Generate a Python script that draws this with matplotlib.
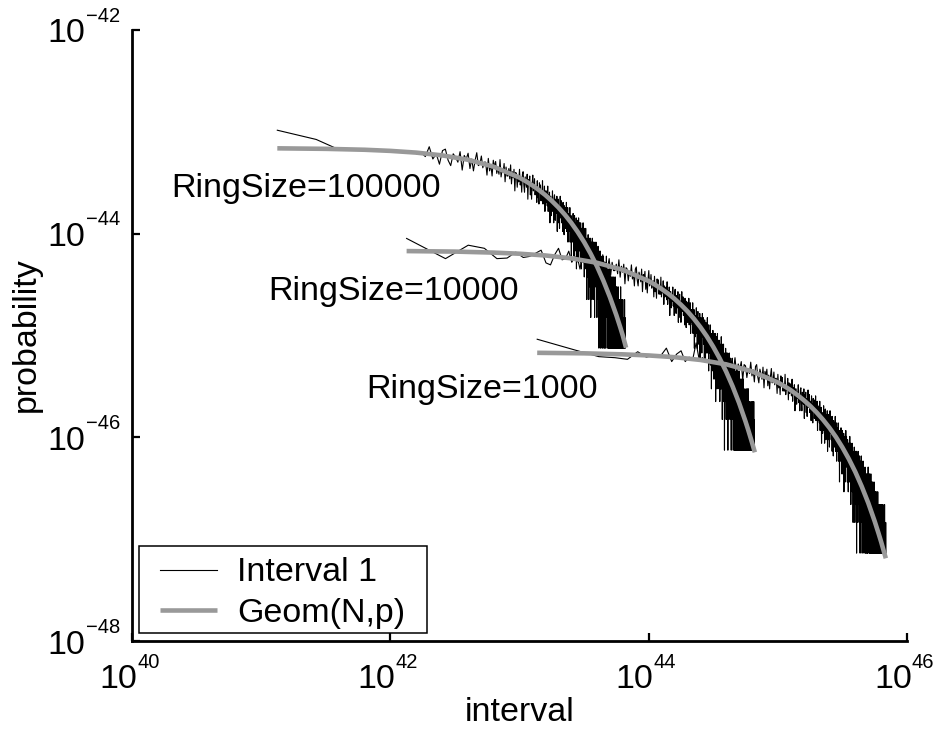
import numpy as np
import matplotlib
matplotlib.use('Agg')
import matplotlib.pyplot as plt
from matplotlib.patches import Rectangle

# ---------------- data ----------------
labels = ['RingSize=100000', 'RingSize=10000', 'RingSize=1000']
legend_labels = ['Interval 1', 'Geom(N,p)']

# interval unit (x of interval 1) and probability of a single count, per ring size
x_units = [10**41.125, 10**42.126, 10**43.137]
y_units = [10**-45.124, 10**-46.126, 10**-47.137]

counts_100000 = [
    138, 112, 89, 90, 87, 89, 86, 85, 86, 83,
    84, 81, 83, 76, 95, 72, 81, 64, 87, 90,
    70, 62, 81, 75, 67, 85, 56, 78, 72, 82,
    58, 72, 55, 70, 83, 62, 64, 77, 59, 67,
    67, 50, 73, 55, 63, 49, 70, 60, 68, 52,
    59, 51, 71, 48, 57, 53, 65, 43, 60, 49,
    49, 58, 46, 63, 41, 54, 47, 57, 35, 53,
    52, 38, 48, 43, 57, 40, 47, 34, 51, 54,
    40, 34, 48, 43, 38, 51, 29, 45, 41, 49,
    32, 42, 29, 41, 50, 35, 37, 46, 32, 38,
    39, 27, 44, 30, 37, 26, 42, 34, 40, 28,
    34, 28, 44, 26, 33, 30, 39, 22, 35, 27,
    28, 35, 25, 39, 22, 32, 26, 34, 17, 31,
    31, 20, 28, 24, 35, 22, 27, 17, 30, 32,
    22, 18, 29, 25, 21, 31, 14, 27, 23, 29,
    17, 25, 15, 24, 31, 19, 21, 28, 17, 22,
    23, 14, 27, 17, 22, 13, 25, 20, 24, 15,
    20, 16, 27, 14, 19, 17, 24, 11, 21, 14,
    16, 21, 14, 24, 11, 19, 15, 20, 8, 18,
    18, 11, 16, 13, 21, 12, 16, 8, 18, 20,
    12, 9, 17, 15, 11, 19, 6, 16, 13, 18,
    9, 15, 7, 14, 19, 10, 12, 17, 9, 13,
    14, 7, 17, 9, 12, 6, 15, 11, 15, 7,
    12, 9, 17, 7, 11, 9, 15, 5, 12, 8,
    9, 13, 7, 15, 6, 11, 8, 12, 3, 10,
    11, 5, 10, 7, 13, 6, 9, 3, 11, 12,
    7, 4, 10, 9, 6, 12, 2, 9, 7, 11,
    4, 9, 3, 8, 12, 6, 7, 11, 5, 7,
    8, 3, 11, 5, 7, 2, 10, 6, 9, 4,
    7, 5, 11, 4, 7, 5, 9, 2, 8, 4,
    5, 8, 4, 10, 3, 7, 4, 8, 1, 6,
    7, 2, 6, 4, 9, 3, 5, 1, 7, 7,
    4, 2, 7, 5, 3, 8, 1, 6, 4, 7,
    2, 5, 1, 5, 8, 3, 4, 7, 2, 4,
    5, 1, 7, 2, 4, 1, 6, 4, 6, 2,
    4, 2, 8, 2, 4, 3, 6, 1, 5, 2,
    3, 5, 2, 6, 1, 4, 2, 5, 1, 4,
    4, 1, 3, 2, 6, 1, 3, 1, 4, 5,
    2, 1, 4, 3, 2, 5, 1, 3, 2, 4,
    1, 3, 1, 3, 5, 2, 2, 4, 1, 2,
    3, 1, 5, 1, 3, 1, 4, 2, 4, 1,
    3, 1, 5, 1, 2, 1, 4, 1, 3, 1,
    2, 3, 1, 4, 1, 3, 1, 3, 1, 2,
    3, 1, 2, 1, 4, 1, 2, 1, 3, 3,
    1, 1, 3, 2, 1, 3, 1, 2, 1, 3,
    1, 2, 1, 2, 4, 1, 1, 3, 1, 1,
    2, 1, 3, 1, 1, 1, 2, 1, 2, 1,
    2, 1, 3, 1, 1, 1, 2, 1, 1, 1,
    1, 2, 1, 1, 1, 2, 1, 3, 1, 1,
    2, 1, 1,
]

counts_10000 = [
    120, 76, 103, 96, 76, 77, 88, 78, 80, 86,
    92, 69, 66, 83, 96, 74, 76, 90, 70, 79,
    78, 60, 85, 65, 75, 58, 81, 71, 80, 62,
    69, 61, 83, 57, 67, 62, 76, 52, 70, 58,
    58, 67, 54, 74, 50, 64, 56, 67, 43, 62,
    60, 46, 57, 51, 66, 48, 55, 41, 60, 63,
    47, 41, 56, 51, 45, 60, 36, 53, 48, 57,
    38, 49, 35, 48, 58, 41, 43, 53, 39, 45,
    46, 32, 51, 36, 43, 31, 48, 41, 47, 34,
    40, 34, 50, 32, 39, 35, 46, 27, 41, 32,
    33, 40, 30, 45, 27, 37, 31, 40, 21, 36,
    36, 25, 33, 29, 40, 26, 32, 21, 35, 38,
    26, 22, 33, 30, 25, 36, 18, 31, 27, 34,
    20, 29, 18, 28, 36, 23, 25, 32, 21, 26,
    27, 17, 31, 20, 25, 16, 29, 23, 28, 18,
    23, 19, 31, 17, 23, 20, 28, 14, 24, 18,
    19, 24, 17, 28, 14, 22, 18, 24, 10, 21,
    21, 13, 19, 16, 25, 14, 18, 10, 21, 23,
    15, 11, 20, 17, 14, 22, 8, 18, 16, 20,
    11, 17, 9, 17, 22, 13, 14, 20, 11, 15,
    16, 8, 19, 11, 15, 8, 18, 13, 17, 9,
    14, 10, 20, 9, 13, 11, 17, 6, 15, 9,
    11, 15, 9, 17, 7, 13, 10, 14, 4, 12,
    13, 6, 11, 9, 15, 7, 11, 5, 13, 14,
    8, 5, 12, 10, 7, 14, 3, 11, 9, 13,
    5, 10, 4, 10, 14, 7, 8, 12, 6, 9,
    10, 4, 12, 6, 9, 3, 11, 8, 10, 4,
    8, 6, 13, 4, 8, 6, 11, 2, 9, 5,
    6, 9, 5, 11, 3, 8, 5, 9, 1, 7,
    8, 3, 7, 5, 10, 4, 6, 2, 8, 9,
    5, 2, 8, 6, 4, 9, 1, 7, 5, 8,
    3, 6, 2, 6, 9, 4, 4, 8, 3, 5,
    6, 2, 8, 3, 5, 1, 7, 4, 6, 2,
    5, 3, 8, 2, 5, 3, 7, 1, 5, 2,
    3, 6, 2, 7, 1, 5, 3, 5, 1, 4,
    5, 1, 4, 3, 6, 2, 4, 1, 5, 5,
    2, 1, 5, 3, 2, 6, 1, 4, 3, 5,
    1, 4, 1, 3, 6, 2, 2, 5, 1, 3,
    4, 1, 5, 1, 3, 1, 4, 2, 4, 1,
    3, 1, 5, 1, 3, 2, 4, 1, 3, 1,
    2, 4, 1, 5, 1, 3, 2, 3, 1, 3,
    3, 1, 2, 1, 4, 1, 2, 1, 3, 3,
    1, 1, 3, 2, 1, 4, 1, 2, 2, 3,
    1, 2, 1, 2, 4, 1, 1, 3, 1, 2,
    2, 1, 4, 1, 2, 1, 3, 1, 2, 1,
    1, 3, 1, 2, 1, 2, 1, 2, 1, 1,
    2, 1, 1, 3, 1, 2, 1, 1, 2, 1,
    1, 2, 1, 1, 3, 1, 1, 2, 1, 1,
    2, 1, 1, 1, 2, 1, 3, 1, 1, 1,
    1, 2, 1, 1,
]

counts_1000 = [
    126, 98, 85, 83, 80, 95, 84, 88, 86, 103,
    76, 90, 97, 76, 84, 80, 116, 78, 83, 75,
    78, 70, 93, 66, 77, 71, 86, 60, 80, 67,
    67, 77, 62, 83, 57, 72, 64, 76, 50, 71,
    69, 53, 65, 58, 75, 55, 63, 48, 68, 71,
    54, 47, 64, 58, 51, 67, 42, 61, 55, 64,
    44, 56, 41, 55, 65, 47, 50, 60, 45, 52,
    52, 37, 57, 42, 49, 36, 55, 46, 53, 39,
    46, 39, 57, 36, 44, 40, 52, 32, 47, 37,
    38, 46, 35, 51, 31, 42, 36, 45, 25, 41,
    41, 29, 38, 33, 45, 30, 36, 25, 40, 42,
    30, 25, 38, 34, 29, 41, 21, 36, 31, 38,
    24, 33, 22, 32, 40, 27, 28, 36, 24, 30,
    31, 20, 35, 23, 29, 19, 33, 27, 32, 21,
    27, 22, 35, 20, 26, 23, 31, 16, 28, 20,
    22, 27, 19, 31, 16, 25, 20, 27, 12, 24,
    24, 15, 22, 18, 28, 16, 21, 12, 24, 26,
    17, 13, 23, 20, 16, 25, 10, 21, 18, 23,
    13, 20, 11, 19, 25, 15, 16, 22, 13, 17,
    18, 10, 22, 12, 17, 9, 20, 15, 19, 11,
    16, 12, 22, 10, 15, 13, 19, 8, 17, 11,
    12, 17, 10, 19, 8, 15, 11, 16, 5, 14,
    15, 8, 13, 10, 17, 9, 12, 6, 14, 16,
    9, 6, 14, 11, 8, 15, 4, 12, 10, 14,
    6, 12, 5, 11, 16, 8, 9, 14, 7, 10,
    11, 5, 13, 7, 10, 4, 12, 9, 12, 5,
    9, 6, 14, 5, 9, 7, 12, 3, 10, 6,
    7, 10, 6, 12, 4, 9, 6, 10, 2, 8,
    9, 4, 8, 5, 11, 4, 7, 2, 9, 10,
    5, 3, 9, 7, 4, 10, 1, 8, 6, 9,
    3, 7, 2, 7, 10, 4, 5, 9, 3, 6,
    7, 2, 9, 3, 6, 1, 8, 5, 7, 2,
    6, 3, 9, 3, 5, 4, 8, 1, 6, 3,
    4, 6, 3, 8, 2, 5, 3, 6, 1, 5,
    6, 2, 5, 3, 7, 2, 4, 1, 5, 6,
    3, 1, 5, 4, 2, 6, 1, 5, 3, 5,
    1, 4, 1, 4, 7, 2, 3, 6, 2, 3,
    4, 1, 6, 2, 4, 1, 5, 3, 5, 1,
    3, 2, 6, 1, 3, 2, 5, 1, 4, 2,
    2, 4, 1, 5, 1, 3, 2, 4, 1, 3,
    4, 1, 3, 2, 5, 1, 3, 1, 3, 4,
    2, 1, 4, 2, 1, 4, 1, 3, 2, 3,
    1, 3, 1, 3, 4, 1, 2, 3, 1, 2,
    3, 1, 4, 1, 2, 1, 3, 1, 3, 1,
    2, 1, 3, 1, 2, 1, 2, 3, 1, 2,
    1, 3, 1, 2, 1, 2, 1, 3, 1, 1,
    2, 1, 1, 3, 1, 2, 1, 1, 2, 1,
    1, 2, 1, 1, 3, 1, 1, 2, 1, 2,
    1, 1, 2, 1, 1, 2, 1, 1, 3, 1,
    1, 2, 1, 1, 1, 2, 1, 1, 2, 1,
]

# fitted geometric curves: log10(interval), log10(probability)
geom1_logx = [41.125, 41.5, 41.8, 42.0, 42.2, 42.4, 42.6, 42.8, 43.0, 43.05, 43.1, 43.15,
              43.2, 43.25, 43.3, 43.35, 43.4, 43.45, 43.5, 43.55, 43.6, 43.65, 43.7,
              43.75, 43.78, 43.8, 43.825]
geom1_logy = [-43.162, -43.167, -43.176, -43.187, -43.204, -43.231, -43.274, -43.342,
              -43.450, -43.486, -43.526, -43.571, -43.621, -43.678, -43.741, -43.812,
              -43.892, -43.982, -44.082, -44.195, -44.321, -44.464, -44.623, -44.801,
              -44.919, -45.002, -45.120]
geom2_logx = [42.126, 42.5, 42.8, 43.0, 43.2, 43.4, 43.6, 43.8, 44.0, 44.05, 44.1, 44.15,
              44.2, 44.25, 44.3, 44.35, 44.4, 44.45, 44.5, 44.55, 44.6, 44.65, 44.7,
              44.75, 44.77, 44.8, 44.822]
geom2_logy = [-44.171, -44.176, -44.186, -44.197, -44.214, -44.242, -44.286, -44.355,
              -44.465, -44.502, -44.543, -44.588, -44.640, -44.698, -44.762, -44.835,
              -44.917, -45.008, -45.111, -45.226, -45.355, -45.500, -45.662, -45.845,
              -45.924, -46.050, -46.147]
geom3_logx = [43.137, 43.5, 43.8, 44.0, 44.2, 44.4, 44.6, 44.8, 45.0, 45.05, 45.1, 45.15,
              45.2, 45.25, 45.3, 45.35, 45.4, 45.45, 45.5, 45.55, 45.6, 45.65, 45.7,
              45.75, 45.78, 45.8, 45.836]
geom3_logy = [-45.170, -45.175, -45.185, -45.196, -45.213, -45.240, -45.283, -45.352,
              -45.461, -45.497, -45.537, -45.583, -45.634, -45.691, -45.755, -45.827,
              -45.907, -45.997, -46.099, -46.213, -46.340, -46.484, -46.644, -46.825,
              -46.944, -47.027, -47.188]

xticks = [1e40, 1e42, 1e44, 1e46]
xtick_exponents = ['40', '42', '44', '46']
yticks = [1e-48, 1e-46, 1e-44, 1e-42]
ytick_exponents = ['\u221248', '\u221246', '\u221244', '\u221242']
tick_base = '10'

# ---------------- style ----------------
plt.rcParams['font.family'] = ['Liberation Sans', 'DejaVu Sans']

GRAY = '#999999'
FS = 24.5
TFS = 24.5
EFS = 14.5

fig = plt.figure(figsize=(9.42, 7.31), dpi=100)
ax = fig.add_axes([132 / 942, 1 - 641 / 731, 775 / 942, 611 / 731])
ax.set_xscale('log')
ax.set_yscale('log')

all_counts = [counts_100000, counts_10000, counts_1000]
black_lines = []
for cnt, xu, yu in zip(all_counts, x_units, y_units):
    c = np.array(cnt, dtype=float)
    k = np.arange(1, len(c) + 1)
    ln, = ax.plot(k * xu, c * yu, color='black', lw=0.8, zorder=2)
    black_lines.append(ln)

gray_lines = []
for gx, gy in [(geom1_logx, geom1_logy), (geom2_logx, geom2_logy), (geom3_logx, geom3_logy)]:
    ln, = ax.plot(10 ** np.array(gx), 10 ** np.array(gy), color=GRAY, lw=3.3,
                  solid_capstyle='butt', zorder=3)
    gray_lines.append(ln)

ax.set_xlim(1e40, 1e46)
ax.set_ylim(1e-48, 1e-42)
ax.set_xticks(xticks)
ax.set_yticks(yticks)
ax.minorticks_off()

for s in ['top', 'right']:
    ax.spines[s].set_visible(False)
for s in ['left', 'bottom']:
    ax.spines[s].set_linewidth(2.0)

ax.tick_params(axis='both', which='major', direction='in', length=6, width=1.6,
               labelbottom=False, labelleft=False)

# tick labels drawn as base + superscript exponent
for t, e in zip(xticks, xtick_exponents):
    ax.annotate(tick_base, xy=(t, 0), xycoords=('data', 'axes fraction'),
                xytext=(5, -47), textcoords='offset pixels', ha='right',
                va='baseline', fontsize=TFS, annotation_clip=False)
    ax.annotate(e, xy=(t, 0), xycoords=('data', 'axes fraction'),
                xytext=(5, -27), textcoords='offset pixels', ha='left',
                va='baseline', fontsize=EFS, annotation_clip=False)
for t, e in zip(yticks, ytick_exponents):
    ax.annotate(tick_base, xy=(0, t), xycoords=('axes fraction', 'data'),
                xytext=(-46.5, -12.5), textcoords='offset pixels', ha='right',
                va='baseline', fontsize=TFS, annotation_clip=False)
    ax.annotate(e, xy=(0, t), xycoords=('axes fraction', 'data'),
                xytext=(-46, 8.3), textcoords='offset pixels', ha='left',
                va='baseline', fontsize=EFS, annotation_clip=False)

ax.set_xlabel('interval', fontsize=FS)
ax.xaxis.set_label_coords(0.5, -0.0915)
ax.set_ylabel('probability', fontsize=FS)
ax.yaxis.set_label_coords(-0.1165, 0.502)

# annotations
ax.text(10 ** 40.307, 10 ** -43.64, labels[0], fontsize=FS, va='baseline', ha='left')
ax.text(10 ** 41.055, 10 ** -44.65, labels[1], fontsize=FS, va='baseline', ha='left')
ax.text(10 ** 41.817, 10 ** -45.612, labels[2], fontsize=FS, va='baseline', ha='left')

# legend (frame drawn separately)
leg = ax.legend([black_lines[0], gray_lines[0]], legend_labels, loc='lower left',
                bbox_to_anchor=(0.0361, 0.0196), borderaxespad=0, borderpad=0,
                fontsize=FS, frameon=False, handlelength=1.67, handletextpad=0.6,
                labelspacing=0.28)
ax.add_patch(Rectangle((0.00942, 0.01358), 0.3716, 0.1419, transform=ax.transAxes,
                       facecolor='white', edgecolor='black', lw=1.1, zorder=4,
                       clip_on=False))
leg.set_zorder(5)

fig.savefig('out.png', dpi=100)
